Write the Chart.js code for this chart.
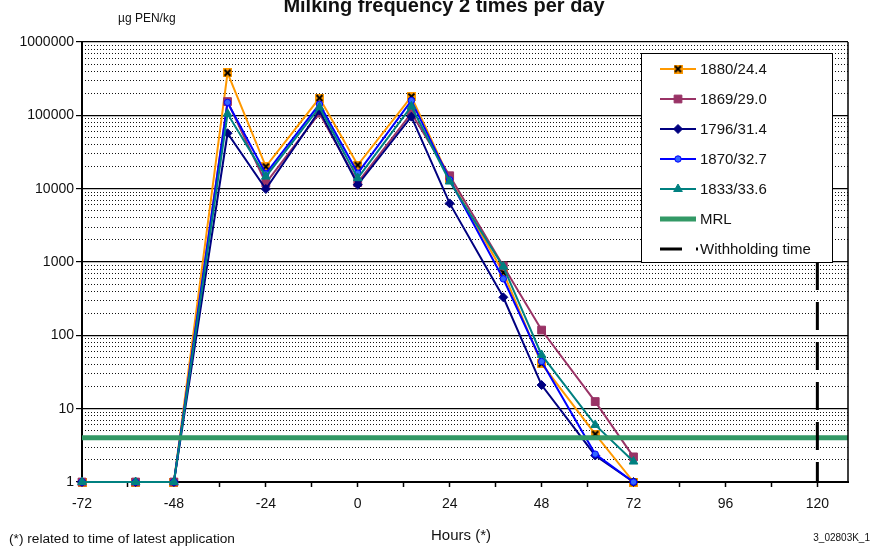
<!DOCTYPE html>
<html>
<head>
<meta charset="utf-8">
<script src="https://cdn.jsdelivr.net/npm/chart.js@4.4.1/dist/chart.umd.min.js"></script>
<style>
  html, body { margin: 0; padding: 0; background: #fff; }
  #wrap { position: relative; width: 874px; height: 547px; font-family: Arial, "Liberation Sans", sans-serif; color: #111; }
  #chart { position: absolute; left: 0; top: 0; }
  .txt { position: absolute; white-space: nowrap; line-height: 1; }
  #title { left: 0; width: 888px; top: -5px; text-align: center; font-size: 20px; font-weight: bold; }
  #unit { left: 118px; top: 12px; font-size: 12px; }
  #xtitle { left: 0; width: 922px; top: 527px; text-align: center; font-size: 15px; }
  #note { left: 9px; top: 532px; font-size: 13.7px; }
  #code { right: 4px; top: 533px; font-size: 10px; }
</style>
</head>
<body>
<div id="wrap">
  <canvas id="chart" width="874" height="547"></canvas>
  <div class="txt" id="title">Milking frequency 2 times per day</div>
  <div class="txt" id="unit">µg PEN/kg</div>
  <div class="txt" id="xtitle">Hours (*)</div>
  <div class="txt" id="note">(*) related to time of latest application</div>
  <div class="txt" id="code">3_02803K_1</div>
</div>
<script>
// sampling times (hours relative to latest application)
const hours = [-72, -58, -48, -34, -24, -10, 0, 14, 24, 38, 48, 62, 72];

// residue concentrations, µg PEN/kg, one array per cow
const cow1880 = [1, 1, 1, 380000, 20000, 172000, 21000, 180000, 13500, 720, 41, 4.5, 1];
const cow1869 = [1, 1, 1, 154000, 11900, 107000, 12100, 107000, 15000, 885, 118, 12.5, 2.2];
const cow1796 = [1, 1, 1, 57000, 9900, 116000, 11300, 96000, 6300, 330, 21, 2.3, 1];
const cow1870 = [1, 1, 1, 150000, 16000, 142000, 16300, 159000, 13200, 590, 44, 2.4, 1];
const cow1833 = [1, 1, 1, 105000, 14600, 129000, 13900, 132000, 12500, 865, 54, 6, 1.9];

const seriesNames = ['1880/24.4', '1869/29.0', '1796/31.4', '1870/32.7', '1833/33.6', 'MRL', 'Withholding time'];

const mrl = 4;
const withholdingTime = 120;
const withholdingTop = 1000;

const xMin = -72;
const xMax = 128;
const xTicks = [-72, -60, -48, -36, -24, -12, 0, 12, 24, 36, 48, 60, 72, 84, 96, 108, 120];
const xLabels = [-72, -48, -24, 0, 24, 48, 72, 96, 120];

const decades = [1, 10, 100, 1000, 10000, 100000, 1000000];
const steps = [1, 2, 3, 4, 5, 6, 7, 8, 9];
const yTicks = [];
decades.forEach(d => steps.forEach(s => { if (d * s <= 1000000) yTicks.push(d * s); }));

const toPoints = vals => vals.map((v, i) => ({ x: hours[i], y: v }));

const tickFont = { family: 'Arial, "Liberation Sans", sans-serif', size: 14 };

// orange square with black cross, like the spreadsheet marker
const crossMark = document.createElement('canvas');
crossMark.width = 9;
crossMark.height = 9;
(function () {
    const c = crossMark.getContext('2d');
    c.fillStyle = '#ff9900';
    c.fillRect(0, 0, 9, 9);
    c.strokeStyle = '#000';
    c.lineWidth = 2;
    c.beginPath();
    c.moveTo(1.5, 1.5); c.lineTo(7.5, 7.5);
    c.moveTo(7.5, 1.5); c.lineTo(1.5, 7.5);
    c.stroke();
})();

const serie = (label, data, color, style, radius, fill, order) => ({
    label: label,
    data: toPoints(data),
    borderColor: color,
    backgroundColor: fill,
    pointBackgroundColor: fill,
    pointBorderColor: color,
    borderWidth: 2,
    pointStyle: style,
    pointRadius: radius,
    pointBorderWidth: 1,
    tension: 0,
    clip: false,
    order: order,
});

const datasets = [
    serie(seriesNames[0], cow1880, '#ff9900', crossMark, 4, '#ff9900', 6),
    serie(seriesNames[1], cow1869, '#993366', 'rect', 5.5, '#993366', 5),
    serie(seriesNames[2], cow1796, '#000080', 'rectRot', 4.5, '#000080', 4),
    serie(seriesNames[3], cow1870, '#0000ff', 'circle', 3.2, '#3366ff', 3),
    serie(seriesNames[4], cow1833, '#008080', 'triangle', 5, '#008080', 2),
    {
        label: seriesNames[5],
        data: [{ x: xMin, y: mrl }, { x: xMax, y: mrl }],
        borderColor: '#339966',
        backgroundColor: '#339966',
        borderWidth: 5,
        pointRadius: 0,
        clip: false,
        order: 1,
    },
    {
        label: seriesNames[6],
        data: [{ x: withholdingTime, y: withholdingTop }, { x: withholdingTime, y: 1 }],
        borderColor: '#000000',
        backgroundColor: '#000000',
        borderWidth: 3,
        borderDash: [28, 12],
        pointRadius: 0,
        order: 0,
    },
];

// legend box drawn inside the plot, top right
const boxLegend = {
    id: 'boxLegend',
    afterDraw(chart) {
        const ctx = chart.ctx;
        const area = chart.chartArea;
        ctx.save();
        // right frame of the plot
        ctx.strokeStyle = '#000';
        ctx.lineWidth = 1.5;
        ctx.beginPath();
        ctx.moveTo(area.right, area.top);
        ctx.lineTo(area.right, area.bottom);
        ctx.stroke();

        const bx = 641, by = 53, bw = 191, bh = 209;
        ctx.fillStyle = '#fff';
        ctx.fillRect(bx, by, bw, bh);
        ctx.strokeStyle = '#000';
        ctx.lineWidth = 1;
        ctx.strokeRect(bx + 0.5, by + 0.5, bw, bh);

        ctx.font = '15px Arial, "Liberation Sans", sans-serif';
        ctx.textBaseline = 'middle';
        chart.data.datasets.forEach((ds, i) => {
            const y = 69 + i * 30;
            const x0 = 660, x1 = 696;
            ctx.save();
            ctx.strokeStyle = ds.borderColor;
            ctx.lineWidth = ds.borderWidth;
            if (ds.borderDash) ctx.setLineDash([22, 14]);
            ctx.beginPath();
            ctx.moveTo(x0, y);
            ctx.lineTo(ds.borderDash ? x1 + 2 : x1, y);
            ctx.stroke();
            ctx.restore();
            if (ds.pointRadius > 0) {
                ctx.fillStyle = ds.pointBackgroundColor;
                ctx.strokeStyle = ds.pointBorderColor;
                ctx.lineWidth = 1;
                Chart.helpers.drawPoint(ctx, {
                    pointStyle: ds.pointStyle,
                    radius: ds.pointRadius,
                    rotation: 0,
                    borderWidth: 1,
                }, (x0 + x1) / 2, y);
            }
            ctx.fillStyle = '#111';
            ctx.fillText(ds.label, 700, y + 1);
        });
        ctx.restore();
    },
};

new Chart(document.getElementById('chart').getContext('2d'), {
    type: 'line',
    data: { datasets: datasets },
    options: {
        responsive: false,
        animation: false,
        maintainAspectRatio: false,
        layout: { padding: { top: 42, right: 26, bottom: 0, left: 0 } },
        plugins: {
            legend: { display: false },
            tooltip: { enabled: false },
        },
        scales: {
            x: {
                type: 'linear',
                min: xMin,
                max: xMax,
                afterBuildTicks: scale => { scale.ticks = xTicks.map(v => ({ value: v })); },
                afterFit: scale => { scale.height = 65; },
                ticks: {
                    autoSkip: false,
                    maxRotation: 0,
                    padding: 9,
                    color: '#111',
                    font: tickFont,
                    callback: v => (xLabels.includes(v) ? String(v) : ''),
                },
                grid: {
                    drawOnChartArea: false,
                    drawTicks: true,
                    tickLength: 5,
                    tickColor: '#000',
                    tickWidth: 1.5,
                },
                border: { color: '#000', width: 2 },
            },
            y: {
                type: 'logarithmic',
                position: 'left',
                min: 1,
                max: 1000000,
                afterBuildTicks: scale => { scale.ticks = yTicks.map(v => ({ value: v })); },
                afterFit: scale => { scale.width = 82; },
                ticks: {
                    autoSkip: false,
                    padding: 2,
                    color: '#111',
                    font: tickFont,
                    callback: v => (decades.includes(v) ? String(v) : ''),
                },
                grid: {
                    color: c => (decades.includes(c.tick.value) ? '#000' : 'rgba(0,0,0,0)'),
                    tickColor: c => (decades.includes(c.tick.value) ? '#000' : 'rgba(0,0,0,0)'),
                    lineWidth: 1.2,
                    tickLength: 6,
                },
                border: { color: '#000', width: 2 },
            },
            yMinor: {
                type: 'logarithmic',
                position: 'left',
                min: 1,
                max: 1000000,
                afterBuildTicks: scale => { scale.ticks = yTicks.map(v => ({ value: v })); },
                afterFit: scale => { scale.width = 0; },
                ticks: { display: false },
                grid: {
                    drawTicks: false,
                    color: c => (decades.includes(c.tick.value) ? 'rgba(0,0,0,0)' : '#111'),
                    lineWidth: 1,
                },
                border: { display: false, dash: [1, 2] },
            },
        },
    },
    plugins: [boxLegend],
});
</script>
</body>
</html>
